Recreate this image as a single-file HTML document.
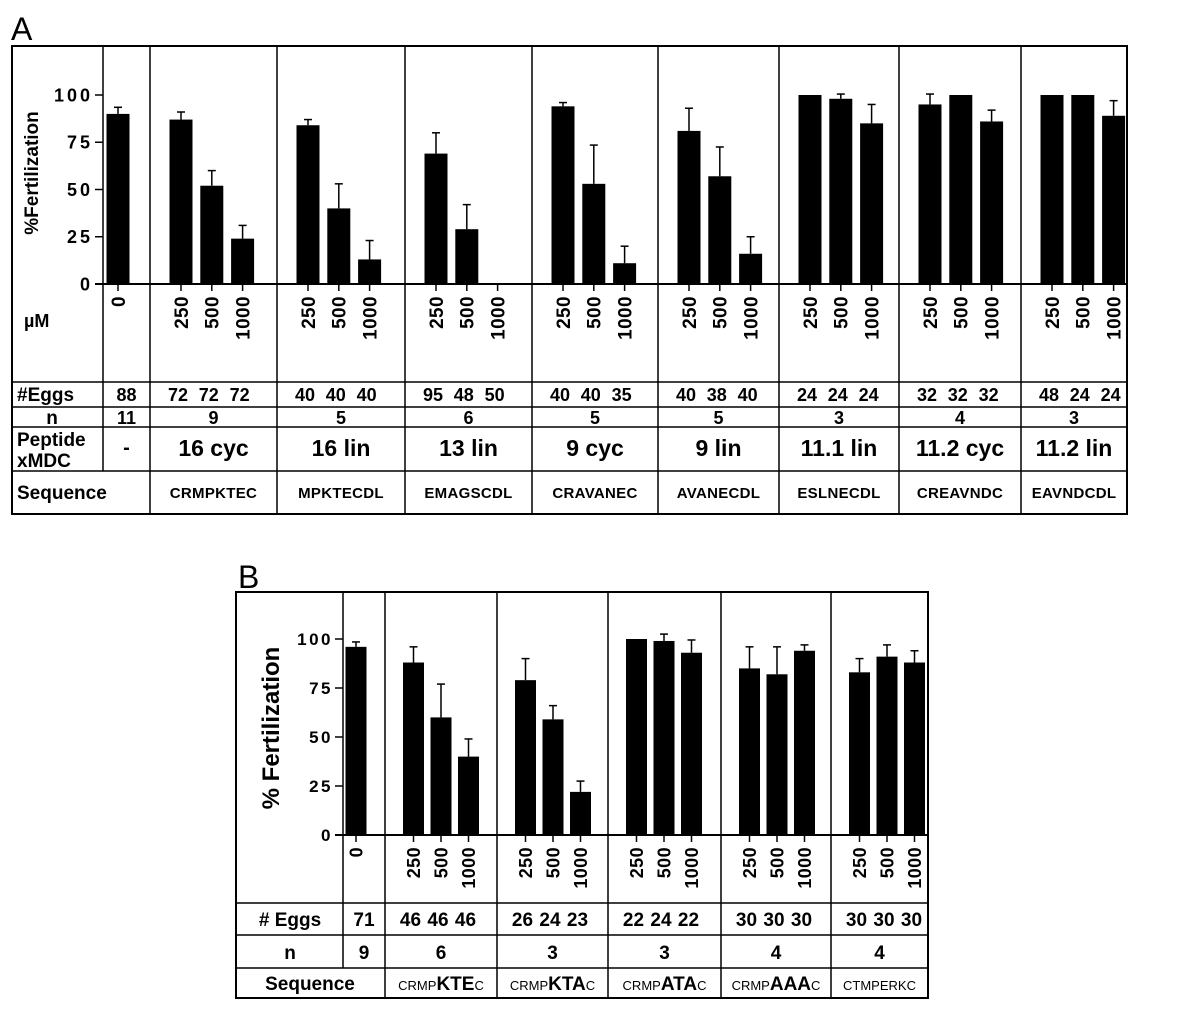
<!DOCTYPE html>
<html><head><meta charset="utf-8"><style>
html,body{margin:0;padding:0;background:#fff;}
svg{display:block;font-family:"Liberation Sans",Arial,sans-serif;}
</style></head><body>
<svg id="fig" width="1184" height="1012" viewBox="0 0 1184 1012" xmlns="http://www.w3.org/2000/svg">
<g id="pA"></g>
<g id="pB"></g>
</svg>
<script>
// ---- Panel A data ----
const aNames = ["-", "16 cyc", "16 lin", "13 lin", "9 cyc", "9 lin", "11.1  lin", "11.2 cyc", "11.2 lin"];
const aSeqs = ["", "CRMPKTEC", "MPKTECDL", "EMAGSCDL", "CRAVANEC", "AVANECDL", "ESLNECDL", "CREAVNDC", "EAVNDCDL"];
const aN = ["11", "9", "5", "6", "5", "5", "3", "4", "3"];
const aEggs = [[88], [72, 72, 72], [40, 40, 40], [95, 48, 50], [40, 40, 35], [40, 38, 40], [24, 24, 24], [32, 32, 32], [48, 24, 24]];
const aVals = [[90], [87, 52, 24], [84, 40, 13], [69, 29, 0], [94, 53, 11], [81, 57, 16], [100, 98, 85], [95, 100, 86], [100, 100, 89]];
const aErr = [[93.5], [91, 60, 31], [87, 53, 23], [80, 42, null], [96, 73.5, 20], [93, 72.5, 25], [null, 100.5, 95], [100.5, null, 92], [null, null, 97]];
const aTicks = [0, 25, 50, 75, 100];
const doses = ["250", "500", "1000"];
const zeroDose = ["0"];
// ---- Panel B data ----
const bSeqPre = ["", "CRMP", "CRMP", "CRMP", "CRMP", "CTMPERKC"];
const bSeqBold = ["", "KTE", "KTA", "ATA", "AAA", ""];
const bSeqPost = ["", "C", "C", "C", "C", ""];
const bN = ["9", "6", "3", "3", "4", "4"];
const bEggs = [[71], [46, 46, 46], [26, 24, 23], [22, 24, 22], [30, 30, 30], [30, 30, 30]];
const bVals = [[96], [88, 60, 40], [79, 59, 22], [100, 99, 93], [85, 82, 94], [83, 91, 88]];
const bErr = [[98.5], [96, 77, 49], [90, 66, 27.5], [null, 102.5, 99.5], [96, 96, 97], [90, 97, 94]];
const bTicks = [0, 25, 50, 75, 100];

const NS = "http://www.w3.org/2000/svg";
function mk(parent, tag, attrs, txt) {
  const e = document.createElementNS(NS, tag);
  for (const k in attrs) e.setAttribute(k, attrs[k]);
  if (txt !== undefined) e.textContent = txt;
  parent.appendChild(e);
  return e;
}
function line(p, x1, y1, x2, y2, w, name) {
  const l = mk(p, "line", {x1, y1, x2, y2, stroke: "#000", "stroke-width": w || 1.5});
  
  
  return l;
}
function txt(p, x, y, s, size, weight, anchor, name, extra) {
  const t = mk(p, "text", Object.assign({x, y, "font-size": size, "font-weight": weight || "bold", "text-anchor": anchor || "middle", fill: "#000"}, extra || {}), s);
  
  
  return t;
}

function drawPanel(cfg) {
  const g = cfg.g;
  const yS = v => cfg.y0 - v * (cfg.y0 - cfg.y100) / 100;
  txt(g, cfg.letterX, cfg.letterY, cfg.letter, 32, "normal", "start", "panel-label");
  const r = mk(g, "rect", {x: cfg.L, y: cfg.T, width: cfg.R - cfg.L, height: cfg.B - cfg.T, fill: "none", stroke: "#000", "stroke-width": 2});
  
  
  cfg.rows.forEach(y => line(g, cfg.L, y, cfg.R, y, 1.5, 'table-row-line'));
  const bd = cfg.bounds;
  bd.slice(0, -1).forEach((x, i) => {
    line(g, x, cfg.T, x, i === 0 ? cfg.seqTop : cfg.B, 1.5, 'group-divider');
  });
  line(g, cfg.axisX - 8, cfg.y0, cfg.R, cfg.y0, 2, 'x-axis-baseline');
  cfg.ticks.forEach(v => {
    line(g, cfg.axisX - 8, yS(v), bd[0], yS(v), 1.5, 'y-tick');
    txt(g, cfg.axisX - 10, yS(v) + cfg.tickSize * 0.36, String(v), cfg.tickSize, "bold", "end", 'y-tick-label', {"letter-spacing": cfg.tickLS});
  });
  txt(g, 0, 0, cfg.yTitle, cfg.yTitleSize, "bold", "middle", 'y-axis-title', {transform: `translate(${cfg.yTitleX},${cfg.yTitleY}) rotate(-90)`});
  cfg.vals.forEach((grp, gi) => {
    const left = bd[gi], right = bd[gi + 1];
    const centers = grp.map((v, i) => gi === 0 ? cfg.zeroC : left + cfg.off + i * cfg.sp);
    const labels = gi === 0 ? zeroDose : doses;
    grp.forEach((v, i) => {
      const cx = centers[i];
      if (v > 0) {
        const b = mk(g, "rect", {x: cx - cfg.bw / 2, y: yS(v), width: cfg.bw, height: cfg.y0 - yS(v), fill: "#000"});
        
        
      }
      const e = cfg.err[gi][i];
      if (e !== null && e !== undefined && v > 0) {
        line(g, cx, yS(v), cx, yS(e), 1.5, 'error-bar');
        line(g, cx - 4, yS(e), cx + 4, yS(e), 1.5, 'error-cap');
      }
      line(g, cx, cfg.y0, cx, cfg.y0 + 7, 1.5, 'x-tick');
      txt(g, 0, 0, labels[i], cfg.doseSize, "bold", "end", 'dose-label', {"letter-spacing": cfg.doseLS, transform: `translate(${cx + cfg.doseSize * 0.36},${cfg.y0 + 12}) rotate(-90)`});
      const ex = gi === 0 ? (left + right) / 2 : cx - 3;
      txt(g, ex, cfg.eggY, String(cfg.eggs[gi][i]), cfg.rowSize, "bold", "middle", 'egg-count');
    });
    txt(g, (left + right) / 2, cfg.nY, cfg.n[gi], cfg.rowSize, "bold", "middle", 'n-value');
    cfg.extra(g, gi, left, right);
  });
}

const gA = document.getElementById("pA");
drawPanel({
  g: gA, letter: "A", letterX: 11, letterY: 40,
  L: 12, R: 1127, T: 46, B: 514,
  rows: [382, 407, 427, 471], seqTop: 471,
  bounds: [103, 150, 277, 405, 532, 658, 779, 899, 1021, 1127],
  axisX: 103, y0: 284, y100: 95, ticks: aTicks, tickSize: 18, tickLS: 3,
  yTitle: "%Fertilization", yTitleSize: 19, yTitleX: 38, yTitleY: 173,
  vals: aVals, err: aErr, eggs: aEggs, n: aN,
  zeroC: 118, off: 31, sp: 30.8, bw: 23, doseSize: 19, doseLS: 0.4,
  eggY: 401, nY: 424, rowSize: 18,
  extra: (g, gi, left, right) => {
    const c = (left + right) / 2;
    if (gi === 0) txt(g, c, 454, aNames[gi], 20, "bold", "middle", 'peptide-name');
    else txt(g, c, 456, aNames[gi], 23, "bold", "middle", 'peptide-name');
    if (gi > 0) txt(g, c, 498, aSeqs[gi], 15, "bold", "middle", 'sequence-label', {"letter-spacing": 0.3});
  }
});
txt(gA, 24, 327, "µM", 18, "bold", "start", 'unit-label');
txt(gA, 17, 401, "#Eggs", 19, "bold", "start", 'eggs-row-label');
txt(gA, 52, 424, "n", 19, "bold", "middle", 'n-row-label');
txt(gA, 17, 446, "Peptide", 19, "bold", "start", 'peptide-row-label');
txt(gA, 17, 467, "xMDC", 19, "bold", "start", 'peptide-row-label-2');
txt(gA, 17, 499, "Sequence", 19, "bold", "start", 'sequence-row-label');

const gB = document.getElementById("pB");
drawPanel({
  g: gB, letter: "B", letterX: 238, letterY: 588,
  L: 236, R: 928, T: 592, B: 998,
  rows: [903, 935, 968], seqTop: 968,
  bounds: [343, 385, 497, 608, 721, 831, 928],
  axisX: 343, y0: 835, y100: 639, ticks: bTicks, tickSize: 17, tickLS: 2.5,
  yTitle: "% Fertilization", yTitleSize: 24, yTitleX: 279, yTitleY: 728,
  vals: bVals, err: bErr, eggs: bEggs, n: bN,
  zeroC: 356, off: 28.5, sp: 27.5, bw: 21, doseSize: 18, doseLS: 0.4,
  eggY: 926, nY: 959, rowSize: 19,
  extra: (g, gi, left, right) => {
    if (gi === 0) return;
    const c = (left + right) / 2;
    const t = mk(g, "text", {x: c, y: 990, "text-anchor": "middle", fill: "#000"});
    
    
    mk(t, "tspan", {"font-size": 13}, bSeqPre[gi]);
    if (bSeqBold[gi]) mk(t, "tspan", {"font-size": 19, "font-weight": "bold"}, bSeqBold[gi]);
    if (bSeqPost[gi]) mk(t, "tspan", {"font-size": 13}, bSeqPost[gi]);
  }
});
txt(gB, 290, 926, "# Eggs", 19, "bold", "middle", 'eggs-row-label');
txt(gB, 290, 959, "n", 19, "bold", "middle", 'n-row-label');
txt(gB, 310, 990, "Sequence", 19, "bold", "middle", 'sequence-row-label');
</script>
</body></html>
